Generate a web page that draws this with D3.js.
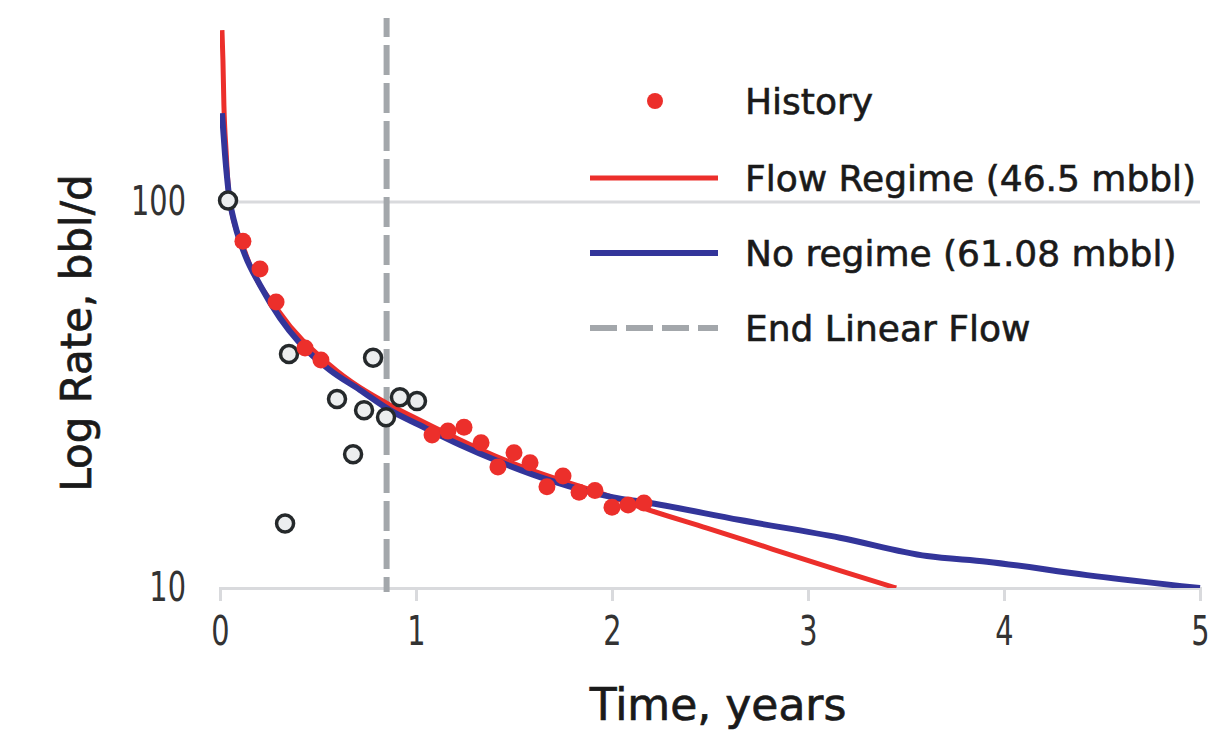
<!DOCTYPE html>
<html>
<head>
<meta charset="utf-8">
<script src="https://cdn.jsdelivr.net/npm/d3@7"></script>
<style>
  body { margin: 0; background: #fff; }
  svg { display: block; }
</style>
</head>
<body>
<script>
//Width and height
var w = 1224;
var h = 731;

var colorRed = "#ec2f2b";
var colorBlue = "#33359a";
var colorGrey = "#a3a7ab";
var colorAxis = "#d9dadd";
var fontFamily = "'DejaVu Sans', sans-serif";

// History (fitted points)
var historyTime = [0.117, 0.204, 0.286, 0.434, 0.515, 1.082, 1.163, 1.245, 1.332, 1.418,
                   1.500, 1.582, 1.668, 1.750, 1.832, 1.913, 2.000, 2.082, 2.163];
var historyRate = [79.2, 67.1, 55.1, 41.9, 39.0, 24.9, 25.5, 26.1, 23.8, 20.6,
                   22.4, 21.1, 18.3, 19.5, 17.7, 17.9, 16.2, 16.4, 16.6];

// excluded points (open circles)
var outlierTime = [0.041, 0.352, 0.781, 0.597, 0.735, 0.847, 0.918, 1.005, 0.679, 0.332];
var outlierRate = [101, 40.4, 39.5, 30.9, 28.9, 27.7, 31.2, 30.5, 22.2, 14.7];

// Flow Regime forecast
var flowTime = [0.010, 0.015, 0.020, 0.031, 0.046, 0.128, 0.306, 0.561, 0.867, 1.020,
                1.429, 2.000, 2.194, 2.485, 2.821, 3.163, 3.450];
var flowRate = [279, 233, 178, 136, 104, 74.2, 51.6, 37.8, 29.8, 27.2,
                21.7, 17.2, 15.9, 14.3, 12.6, 11.1, 10.0];

// No regime forecast
var noRegimeTime = [0.010, 0.026, 0.046, 0.077, 0.128, 0.204, 0.306, 0.408, 0.561, 0.714,
                    0.867, 1.020, 1.224, 1.429, 1.684, 2.000, 2.194, 2.653, 3.163, 3.607,
                    3.913, 4.423, 5.000];
var noRegimeRate = [170, 132, 104, 87.2, 72.9, 61.0, 50.1, 43.1, 36.7, 32.6,
                    28.9, 26.4, 23.5, 21.2, 19.0, 17.2, 16.6, 15.0, 13.5, 12.1,
                    11.7, 10.8, 10.0];

var endLinearFlow = 0.85;

var xTicks = [0, 1, 2, 3, 4, 5];
var yTicks = [10, 100];
var legendLabels = ["History", "Flow Regime (46.5 mbbl)", "No regime (61.08 mbbl)", "End Linear Flow"];

function zip(xs, ys) {
	return xs.map(function(x, i) { return {t: x, v: ys[i]}; });
}

//Create SVG element
var svg = d3.select("body")
			.append("svg")
			.attr("width", w)
			.attr("height", h);

var x = d3.scaleLinear().domain([0, 5]).range([220, 1200]);
var y = d3.scaleLog().domain([10, 300]).range([588, 18]);

svg.append("defs").append("clipPath")
	.attr("id", "plot")
	.append("rect")
	.attr("x", x(0))
	.attr("y", y(300))
	.attr("width", x(5) - x(0) + 4)
	.attr("height", y(10) - y(300));

// gridline at 100
svg.selectAll("line.grid")
	.data(yTicks.filter(function(d) { return d > 10; }))
	.enter()
	.append("line")
	.attr("class", "grid")
	.attr("x1", x(0))
	.attr("x2", x(5))
	.attr("y1", function(d) { return y(d); })
	.attr("y2", function(d) { return y(d); })
	.style("stroke", colorAxis)
	.style("stroke-width", 3);

// x axis
var xAxis = svg.append("g")
	.attr("transform", "translate(0," + y(10) + ")")
	.call(d3.axisBottom(x).tickValues(xTicks).tickSize(13).tickPadding(16).tickFormat(d3.format("d")));
xAxis.select(".domain").style("stroke", colorAxis).style("stroke-width", 3);
xAxis.selectAll(".tick line").style("stroke", colorAxis).style("stroke-width", 3);
xAxis.selectAll(".tick text")
	.attr("font-family", fontFamily)
	.attr("font-size", "40px")
	.attr("fill", "#333")
	.attr("transform", "scale(0.72,1)");

// y axis labels only
var yAxis = svg.append("g")
	.attr("transform", "translate(" + x(0) + ",0)")
	.call(d3.axisLeft(y).tickValues(yTicks).tickSize(0).tickPadding(0).tickFormat(d3.format("d")));
yAxis.select(".domain").remove();
yAxis.selectAll(".tick text")
	.attr("font-family", fontFamily)
	.attr("font-size", "40px")
	.attr("fill", "#333")
	.attr("x", -34 / 0.72)
	.attr("transform", "scale(0.72,1)");

// End linear flow
svg.append("line")
	.attr("x1", x(endLinearFlow))
	.attr("x2", x(endLinearFlow))
	.attr("y1", y(300))
	.attr("y2", y(10) + 4)
	.style("stroke", colorGrey)
	.style("stroke-width", 6)
	.style("stroke-dasharray", "30,8")
	.style("stroke-dashoffset", 11);

var line = d3.line()
	.x(function(d) { return x(d.t); })
	.y(function(d) { return y(d.v); })
	.curve(d3.curveMonotoneX);

svg.append("path")
	.datum(zip(flowTime, flowRate))
	.attr("d", line)
	.attr("clip-path", "url(#plot)")
	.style("fill", "none")
	.style("stroke", colorRed)
	.style("stroke-width", 5);

svg.append("path")
	.datum(zip(noRegimeTime, noRegimeRate))
	.attr("d", line)
	.attr("clip-path", "url(#plot)")
	.style("fill", "none")
	.style("stroke", colorBlue)
	.style("stroke-width", 6);

// open circles
svg.selectAll("circle.out")
	.data(zip(outlierTime, outlierRate))
	.enter()
	.append("circle")
	.attr("class", "out")
	.attr("cx", function(d) { return x(d.t); })
	.attr("cy", function(d) { return y(d.v); })
	.attr("r", 8.5)
	.style("fill", "#eceeef")
	.style("stroke", "#25292b")
	.style("stroke-width", 3.5);

// history dots
svg.selectAll("circle.hist")
	.data(zip(historyTime, historyRate))
	.enter()
	.append("circle")
	.attr("class", "hist")
	.attr("cx", function(d) { return x(d.t); })
	.attr("cy", function(d) { return y(d.v); })
	.attr("r", 8.5)
	.style("fill", colorRed);

// axis titles
svg.append("text")
	.text("Time, years")
	.attr("x", 718)
	.attr("y", 720)
	.attr("text-anchor", "middle")
	.attr("font-family", fontFamily)
	.attr("font-size", "44px")
	.attr("fill", "#1a1a1a")
	.style("stroke", "#1a1a1a")
	.style("stroke-width", 0.7);

svg.append("text")
	.text("Log Rate, bbl/d")
	.attr("transform", "translate(91,333) rotate(-90)")
	.attr("text-anchor", "middle")
	.attr("font-family", fontFamily)
	.attr("font-size", "42px")
	.attr("fill", "#1a1a1a")
	.style("stroke", "#1a1a1a")
	.style("stroke-width", 0.7);

// legend
var legendY = [101, 178, 253, 328];
var legend = svg.selectAll("g.legend")
	.data(legendLabels)
	.enter()
	.append("g")
	.attr("class", "legend")
	.attr("transform", function(d, i) { return "translate(0," + legendY[i] + ")"; });

legend.append("text")
	.text(function(d) { return d; })
	.attr("x", 745)
	.attr("y", 13)
	.attr("font-family", fontFamily)
	.attr("font-size", "36px")
	.attr("fill", "#1a1a1a")
	.style("stroke", "#1a1a1a")
	.style("stroke-width", 0.6);

legend.filter(function(d, i) { return i == 0; })
	.append("circle")
	.attr("cx", 655)
	.attr("cy", 0)
	.attr("r", 8)
	.style("fill", colorRed);

legend.filter(function(d, i) { return i > 0; })
	.append("line")
	.attr("x1", 590)
	.attr("x2", 718)
	.attr("y1", 0)
	.attr("y2", 0)
	.style("stroke", function(d, i) { return [colorRed, colorBlue, colorGrey][i]; })
	.style("stroke-width", function(d, i) { return [5, 6, 6][i]; })
	.style("stroke-dasharray", function(d, i) { return i == 2 ? "27,9" : null; });
</script>
</body>
</html>
